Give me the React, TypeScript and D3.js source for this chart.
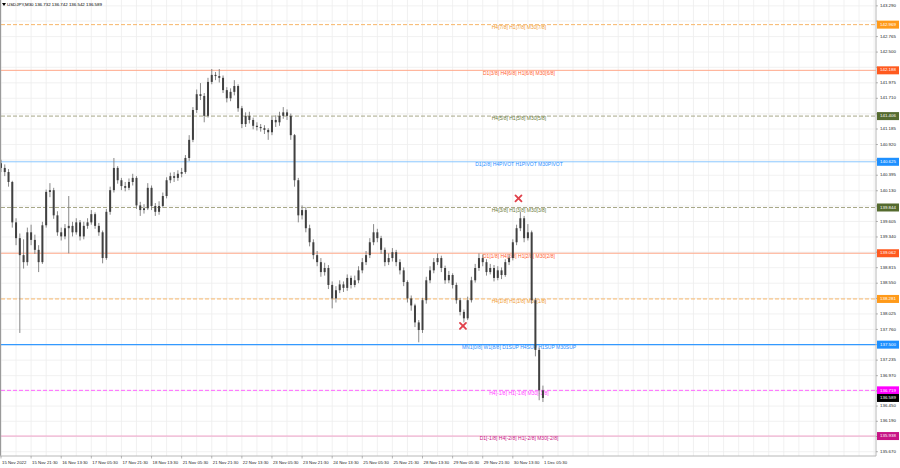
import React from "react";
import * as d3 from "d3";

// USDJPY M30 (drawn as 2h steps, every 4th M30 bar)
const firstOpen = 140.6;
const closes = [
  140.52, 140.45, 140.28, 139.59, 139.32, 139.03, 138.91, 139.42, 139.29, 139.12,
  138.91, 139.54, 140.11, 140.14, 139.71, 139.42, 139.35, 139.49, 139.53, 139.42,
  139.59, 139.35, 139.53, 139.59, 139.73, 139.53, 139.42, 138.98, 139.77, 140.14,
  140.52, 140.31, 140.21, 140.18, 140.28, 140.35, 139.88, 139.8, 139.83, 140.18,
  139.87, 139.77, 139.87, 140.04, 140.31, 140.38, 140.35, 140.42, 140.45, 140.69,
  141.0, 141.51, 141.78, 141.75, 141.41, 141.99, 142.11, 142.09, 142.06, 141.85,
  141.71, 141.82, 141.92, 141.54, 141.27, 141.41, 141.34, 141.24, 141.22, 141.2,
  141.17, 141.13, 141.34, 141.3, 141.41, 141.47, 141.41, 141.08, 140.31, 139.71,
  139.8, 139.49, 139.25, 139.03, 138.91, 138.74, 138.81, 138.52, 138.29, 138.43,
  138.53, 138.47, 138.64, 138.52, 138.6, 138.77, 138.91, 139.03, 139.25, 139.42,
  139.32, 139.12, 138.91, 138.98, 139.08, 138.91, 138.77, 138.57, 138.29, 138.17,
  137.88, 137.75, 138.26, 138.6, 138.77, 138.91, 138.98, 138.81, 138.6, 138.69,
  138.52, 138.26, 138.06, 137.95, 138.26, 138.6, 138.81, 138.98, 138.91, 138.74,
  138.81, 138.64, 138.77, 138.69, 138.91, 138.98, 139.25, 139.49, 139.66, 139.32,
  139.42, 138.26, 137.41, 136.72, 136.589,
];
const highs = [
  140.66, 140.58, 140.5, 140.3, 139.66, 139.4, 139.3, 139.5, 139.55, 139.38,
  139.2, 139.6, 140.15, 140.26, 140.18, 139.78, 139.5, 139.56, 140.04, 139.6,
  139.66, 139.63, 139.6, 139.66, 139.8, 139.76, 139.58, 139.45, 139.82, 140.2,
  140.69, 140.55, 140.35, 140.28, 140.34, 140.42, 140.38, 139.94, 139.9, 140.26,
  140.22, 139.92, 139.95, 140.1, 140.36, 140.44, 140.45, 140.48, 140.52, 140.74,
  141.08, 141.56, 141.86, 141.97, 141.8, 142.06, 142.21, 142.16, 142.21, 142.1,
  141.9, 141.88, 142.02, 141.95, 141.58, 141.47, 141.48, 141.38, 141.3, 141.27,
  141.25, 141.2, 141.4, 141.42, 141.48, 141.56, 141.52, 141.45, 141.1, 140.35,
  139.88, 139.85, 139.55, 139.3, 139.1, 138.98, 138.9, 138.86, 138.58, 138.5,
  138.6, 138.58, 138.7, 138.68, 138.68, 138.84, 138.98, 139.1, 139.32, 139.56,
  139.48, 139.36, 139.16, 139.06, 139.15, 139.12, 138.96, 138.82, 138.6, 138.34,
  138.2, 137.92, 138.3, 138.66, 138.84, 138.98, 139.06, 139.02, 138.85, 138.76,
  138.72, 138.56, 138.3, 138.1, 138.32, 138.66, 138.88, 139.06, 139.04, 138.96,
  138.88, 138.86, 138.84, 138.82, 138.96, 139.04, 139.3, 139.55, 139.77, 139.7,
  139.56, 139.45, 138.3, 137.45, 136.8,
];
const lows = [
  140.45, 140.38, 140.2, 139.5, 139.2, 137.7, 138.8, 138.85, 139.2, 139.05,
  138.74, 138.88, 139.5, 140.02, 139.65, 139.36, 139.28, 139.3, 139.06, 139.35,
  139.38, 139.28, 139.3, 139.48, 139.55, 139.48, 139.36, 138.89, 138.95, 139.72,
  140.1, 140.25, 140.14, 140.12, 140.14, 140.22, 139.82, 139.7, 139.74, 139.8,
  139.8, 139.7, 139.72, 139.84, 140.0, 140.26, 140.28, 140.3, 140.36, 140.42,
  140.64, 140.96, 141.46, 141.68, 141.3, 141.38, 141.95, 142.02, 141.98, 141.8,
  141.64, 141.66, 141.76, 141.48, 141.2, 141.22, 141.28, 141.18, 141.16, 141.14,
  141.1, 141.0, 141.08, 141.22, 141.24, 141.36, 141.34, 141.0, 140.2, 139.59,
  139.64, 139.42, 139.18, 138.96, 138.84, 138.66, 138.68, 138.45, 138.12, 138.22,
  138.38, 138.4, 138.42, 138.46, 138.48, 138.55, 138.72, 138.86, 138.98, 139.2,
  139.25, 139.05, 138.84, 138.86, 138.92, 138.84, 138.7, 138.5, 138.22, 138.08,
  137.8, 137.54, 137.7, 138.2, 138.55, 138.72, 138.86, 138.74, 138.54, 138.55,
  138.46, 138.2, 138.0, 137.88, 137.92, 138.22, 138.56, 138.76, 138.84, 138.68,
  138.7, 138.58, 138.6, 138.62, 138.66, 138.86, 138.94, 139.2, 139.44, 139.25,
  139.28, 138.2, 137.3, 136.55, 136.52,
];

const timeLabels = [
  "15 Nov 2022", "15 Nov 21:30", "16 Nov 13:30", "17 Nov 05:30", "17 Nov 21:30",
  "18 Nov 13:30", "21 Nov 05:30", "21 Nov 21:30", "22 Nov 13:30", "23 Nov 05:30",
  "23 Nov 21:30", "24 Nov 13:30", "25 Nov 05:30", "25 Nov 21:30", "28 Nov 13:30",
  "29 Nov 05:30", "29 Nov 21:30", "30 Nov 13:30", "1 Dec 05:30",
];

const priceTicks = [
  143.29, 143.03, 142.765, 142.5, 142.24, 141.975, 141.71, 141.445, 141.185, 140.92,
  140.655, 140.395, 140.13, 139.87, 139.605, 139.34, 139.08, 138.815, 138.55, 138.29,
  138.025, 137.76, 137.5, 137.235, 136.97, 136.71, 136.45, 136.19, 135.93, 135.67,
];

const levelPrices = [142.969, 142.188, 141.406, 140.625, 139.844, 139.062, 138.281, 137.5, 136.719, 135.938];
const levelNames = [
  "H4[7/8] H1[7/8] M30[7/8]",
  "D1[3/8] H4[6/8] H1[6/8] M30[6/8]",
  "H4[5/8] H1[5/8] M30[5/8]",
  "D1[2/8] H4PIVOT H1PIVOT M30PIVOT",
  "H4[3/8] H1[3/8] M30[3/8]",
  "D1[1/8] H4[2/8] H1[2/8] M30[2/8]",
  "H4[1/8] H1[1/8] M30[1/8]",
  "MN1[0/8] W1[8/8] D1SUP H4SUP H1SUP M30SUP",
  "H4[-1/8] H1[-1/8] M30[-1/8]",
  "D1[-1/8] H4[-2/8] H1[-2/8] M30[-2/8]",
];
const levelLine = ["#f7b66a", "#ffa88a", "#a8a888", "#8cc8ff", "#a8a888", "#ffa88a", "#f7b66a", "#3399ff", "#ff66ff", "#f0a0c8"];
const levelText = ["#f09a30", "#ff6030", "#6b7b3a", "#2a8fff", "#6b7b3a", "#ff6030", "#f09a30", "#2a8fff", "#ff40ff", "#c71585"];
const levelBox = ["#ff9a1a", "#ff5a1f", "#556b2f", "#1e90ff", "#556b2f", "#ff5a1f", "#ff9a1a", "#1e90ff", "#ff00ff", "#c71585"];
const levelDashed = [true, false, true, false, true, false, true, false, true, false];

// red cross signals: [M30 bar index, price]
const signals = [
  [550, 140.0],
  [491, 137.82],
];

const W = 900;
const H = 468;
const plotR = 876;
const plotB = 456;
const font = "'Liberation Sans', Arial, sans-serif";

export default function App() {
  const y = d3.scaleLinear().domain([135.597, 143.39]).range([plotB, 0]);
  const x = d3.scaleLinear().domain([0, 930]).range([1, plotR]);
  const step = 4; // M30 bars per drawn candle
  const last = closes[closes.length - 1];

  const gridX = d3.range(0, 930, 16);
  // axis labels hidden behind the level boxes are not drawn
  const boxYs = [...levelPrices, last].map((p) => y(p));
  const visibleTicks = priceTicks.filter((p) => boxYs.every((b) => Math.abs(b - y(p)) > 6));

  return (
    <svg width={W} height={H} style={{ position: "absolute", left: 0, top: 0, background: "#fff" }} fontFamily={font}>
      <rect x={0} y={0} width={W} height={H} fill="#fff" />
      {/* grid */}
      {gridX.map((g) => (
        <line key={"gx" + g} x1={x(g)} x2={x(g)} y1={0} y2={plotB} stroke="#ededed" strokeWidth={0.8} />
      ))}
      {priceTicks.map((p) => (
        <line key={"gy" + p} x1={1} x2={plotR} y1={y(p)} y2={y(p)} stroke="#ededed" strokeWidth={0.8} />
      ))}

      {/* levels */}
      {levelPrices.map((p, i) => (
        <g key={"lv" + i}>
          <line
            x1={1}
            x2={plotR}
            y1={y(p)}
            y2={y(p)}
            stroke={levelLine[i]}
            strokeWidth={i === 7 ? 1.2 : 1}
            strokeDasharray={levelDashed[i] ? "4 2" : undefined}
          />
          <text x={519} y={y(p) + 3} fontSize={5} fill={levelText[i]} textAnchor="middle" dominantBaseline="middle">
            {levelNames[i]}
          </text>
        </g>
      ))}

      {/* candles */}
      {closes.map((c, i) => {
        const o = i === 0 ? firstOpen : closes[i - 1];
        const cx = x(i * step);
        const top = y(Math.max(o, c));
        const bot = y(Math.min(o, c));
        return (
          <g key={"c" + i}>
            <line x1={cx} x2={cx} y1={y(highs[i])} y2={y(lows[i])} stroke="#7a7a7a" strokeWidth={0.9} />
            <rect x={cx - 1} y={top} width={2} height={Math.max(bot - top, 0.9)} fill="#404040" />
          </g>
        );
      })}

      {/* signals */}
      {signals.map(([b, p], i) => {
        const sx = x(b);
        const sy = y(p);
        return (
          <g key={"s" + i} stroke="#e0404a" strokeWidth={1.8} strokeLinecap="round">
            <line x1={sx - 3} x2={sx + 3} y1={sy - 3} y2={sy + 3} />
            <line x1={sx - 3} x2={sx + 3} y1={sy + 3} y2={sy - 3} />
          </g>
        );
      })}

      {/* frame */}
      <line x1={0.5} x2={0.5} y1={0} y2={plotB} stroke="#9a9a9a" strokeWidth={1.2} />
      <line x1={plotR} x2={plotR} y1={0} y2={plotB} stroke="#b8b8b8" strokeWidth={1} />
      <line x1={0} x2={plotR} y1={plotB} y2={plotB} stroke="#b8b8b8" strokeWidth={1} />

      {/* price axis */}
      {priceTicks.map((p) => (
        <line key={"pk" + p} x1={plotR} x2={plotR + 2} y1={y(p)} y2={y(p)} stroke="#888" strokeWidth={0.6} />
      ))}
      {visibleTicks.map((p) => (
        <text key={"pt" + p} x={880} y={y(p)} fontSize={4.4} fill="#222" dominantBaseline="middle">
          {p.toFixed(3)}
        </text>
      ))}
      {levelPrices.map((p, i) => (
        <g key={"lb" + i}>
          <rect x={877} y={y(p) - 4} width={22} height={8} fill={levelBox[i]} />
          <text x={880} y={y(p)} fontSize={4.4} fill="#fff" dominantBaseline="middle">
            {p.toFixed(3)}
          </text>
        </g>
      ))}
      <rect x={877} y={y(last) - 4} width={22} height={8} fill="#000" />
      <text x={880} y={y(last)} fontSize={4.4} fill="#fff" dominantBaseline="middle">
        {last.toFixed(3)}
      </text>

      {/* time axis */}
      {timeLabels.map((t, k) => (
        <g key={"t" + k}>
          <line x1={x(k * 32)} x2={x(k * 32)} y1={plotB} y2={plotB + 2.5} stroke="#888" strokeWidth={0.6} />
          <text x={x(k * 32) + 1} y={463} fontSize={4.3} fill="#222" dominantBaseline="middle">
            {t}
          </text>
        </g>
      ))}

      {/* title */}
      <path d="M2,3 L6,3 L4,6 Z" fill="#000" />
      <text x={7} y={5} fontSize={4.4} fill="#000" dominantBaseline="middle">
        USDJPY,M30 136.732 136.742 136.542 136.589
      </text>
    </svg>
  );
}
